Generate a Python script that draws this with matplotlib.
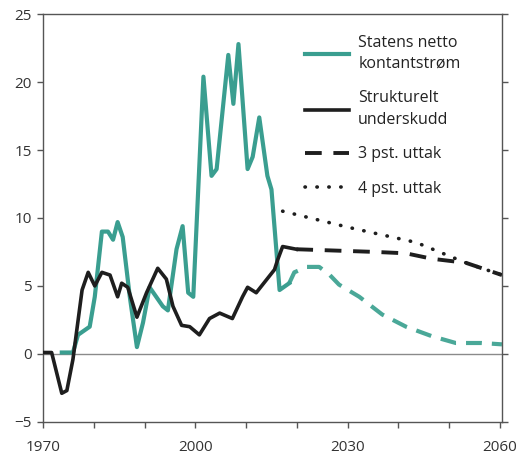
"""Statens netto kontantstrøm vs. strukturelt underskudd, 1970-2060 (mrd./pst. av BNP)."""

import matplotlib

matplotlib.use("Agg")
import matplotlib.pyplot as plt

plt.rcParams["font.family"] = ["Open Sans", "DejaVu Sans"]

TEAL = "#3a9e90"
BLACK = "#1e1e1e"
GREY = "#555555"

# --- data ------------------------------------------------------------------
cash_years = [1973.7, 1975.9, 1976.9, 1979.2, 1980.2, 1981.6, 1982.8, 1983.8,
              1984.7, 1985.7, 1987.1, 1988.5, 1989.7, 1991.0, 1993.6, 1994.6,
              1996.3, 1997.5, 1998.6, 1999.6, 2001.6, 2003.2, 2004.2, 2006.5,
              2007.5, 2008.5, 2010.3, 2011.3, 2012.6, 2014.2, 2015.0, 2016.6,
              2018.5]
cash_vals = [0.1, 0.1, 1.4, 2.0, 4.2, 9.0, 9.0, 8.4,
             9.7, 8.6, 4.2, 0.5, 2.3, 4.9, 3.5, 3.2,
             7.7, 9.4, 4.5, 4.2, 20.4, 13.1, 13.6, 22.0,
             18.4, 22.8, 13.6, 14.5, 17.4, 13.1, 12.1, 4.7,
             5.2]

cash_proj_years = [2018.5, 2019.5, 2022.0, 2024.4, 2026.5, 2028.3, 2032.3,
                   2036.8, 2041.5, 2046.6, 2051.3, 2056.4, 2060.4]
cash_proj_vals = [5.2, 6.0, 6.4, 6.4, 5.8, 5.1, 4.2,
                  2.9, 2.0, 1.3, 0.8, 0.8, 0.7]

deficit_years = [1970.0, 1971.7, 1973.7, 1974.7, 1975.9, 1977.7, 1978.9,
                 1980.2, 1981.6, 1983.2, 1984.7, 1985.5, 1986.7, 1988.5,
                 1990.4, 1992.6, 1994.3, 1995.6, 1997.3, 1998.9, 2000.8,
                 2002.8, 2004.8, 2007.3, 2009.3, 2010.3, 2012.0, 2015.6,
                 2016.2, 2017.2, 2019.9]
deficit_vals = [0.1, 0.1, -2.9, -2.7, -0.4, 4.7, 6.0,
                5.0, 6.0, 5.8, 4.2, 5.2, 4.9, 2.7,
                4.5, 6.3, 5.5, 3.5, 2.1, 2.0, 1.4,
                2.6, 3.0, 2.6, 4.2, 4.9, 4.5, 6.2,
                6.9, 7.9, 7.7]

uttak3_years = [2019.9, 2035.6, 2041.5, 2046.6, 2053.3, 2060.4]
uttak3_vals = [7.7, 7.5, 7.4, 7.0, 6.7, 5.8]

uttak4_years = [2017.2, 2030.3, 2043.5, 2053.3, 2060.4]
uttak4_vals = [10.5, 9.3, 8.2, 6.7, 5.8]

x_ticks = [1970, 1980, 1990, 2000, 2010, 2020, 2030, 2040, 2050, 2060]
x_labels = ["1970", "", "", "2000", "", "", "2030", "", "", "2060"]
y_ticks = [-5, 0, 5, 10, 15, 20, 25]

# --- figure ------------------------------------------------------------------
fig = plt.figure(figsize=(5.18, 4.57), dpi=100)
ax = fig.add_axes([0.083, 0.077, 0.887, 0.892])

ax.axhline(0, color="#8a8a8a", lw=1.0, zorder=1)

ax.plot(cash_proj_years, cash_proj_vals, color="#4aa898", lw=3.0,
        dashes=(3.8, 2.4), zorder=2)
ax.plot(uttak4_years, uttak4_vals, color=BLACK, lw=2.6, dashes=(0.1, 3.2),
        dash_capstyle="round", label="4 pst. uttak", zorder=3)
ax.plot(uttak3_years, uttak3_vals, color=BLACK, lw=2.8, dashes=(4.3, 3.0),
        label="3 pst. uttak", zorder=3)
ax.plot(cash_years, cash_vals, color=TEAL, lw=3.0, solid_joinstyle="round",
        label="Statens netto\nkontantstrøm", zorder=4)
ax.plot(deficit_years, deficit_vals, color=BLACK, lw=2.6,
        solid_joinstyle="round", label="Strukturelt\nunderskudd", zorder=5)

ax.set_xlim(1970, 2060.5)
ax.set_ylim(-5, 25)
ax.set_xticks(x_ticks)
ax.set_xticklabels(x_labels)
ax.set_yticks(y_ticks)
ax.tick_params(axis="both", direction="out", length=4, width=1, color=GREY,
               labelsize=11, labelcolor="#333333", pad=4)
ax.tick_params(axis="x", pad=9)
ax.tick_params(axis="y", right=True)
for side in ax.spines.values():
    side.set_color(GREY)
    side.set_linewidth(1.0)

handles, labels = ax.get_legend_handles_labels()
order = [labels.index(n) for n in ["Statens netto\nkontantstrøm",
                                   "Strukturelt\nunderskudd",
                                   "3 pst. uttak", "4 pst. uttak"]]
leg = ax.legend([handles[i] for i in order], [labels[i] for i in order],
                loc="upper left", bbox_to_anchor=(0.54, 0.985), frameon=False,
                fontsize=11.5, handlelength=2.7, handletextpad=0.6,
                labelspacing=1.15, labelcolor="#222222")
for t in leg.get_texts():
    t.set_linespacing(1.45)

fig.savefig("out.png", dpi=100)
